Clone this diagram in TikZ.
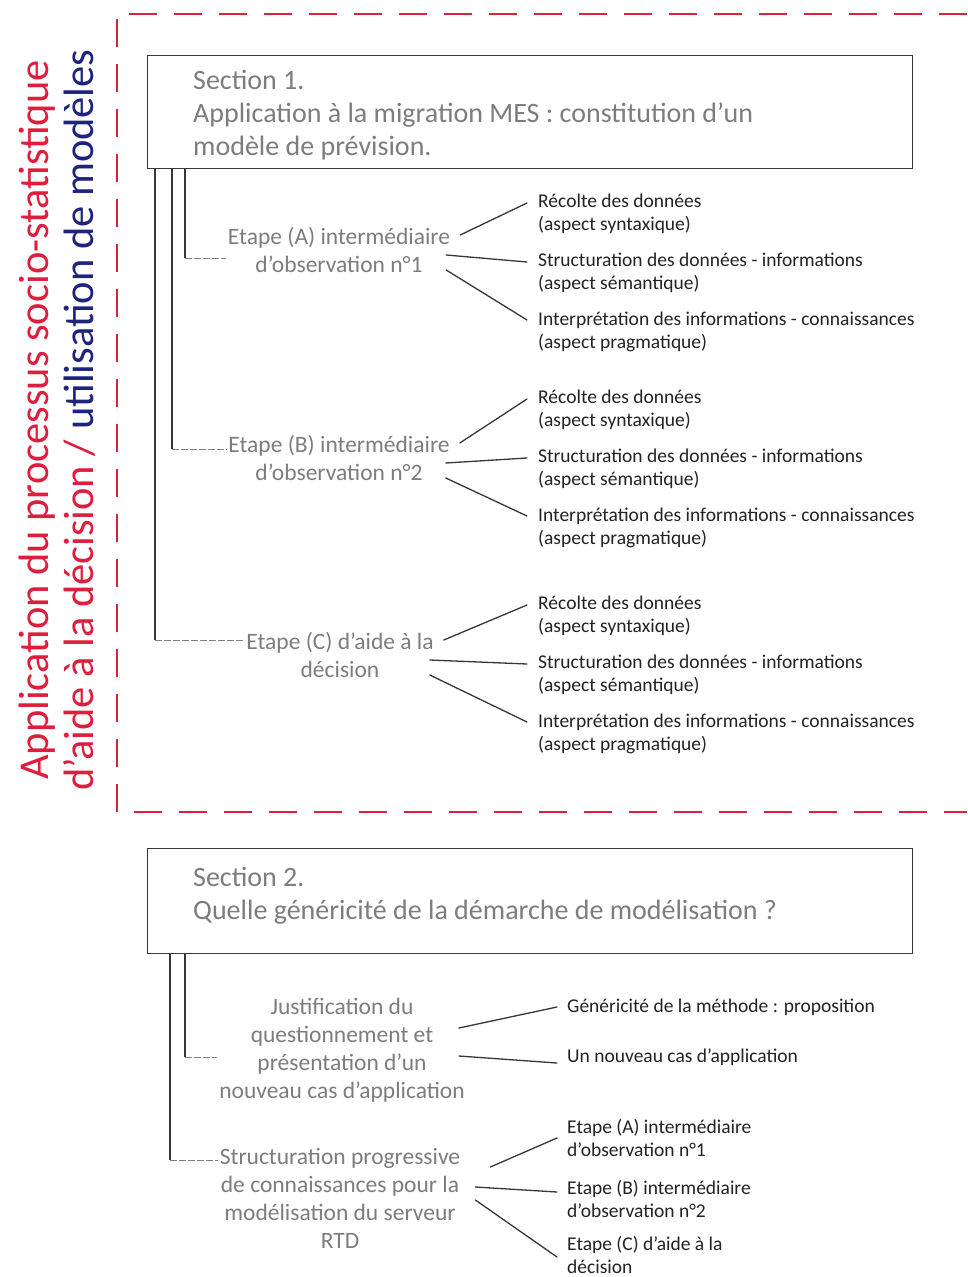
\documentclass[tikz,border=0pt]{standalone}
\usepackage{fontspec}
\setmainfont{Carlito}
\usetikzlibrary{calc}
\definecolor{redt}{RGB}{222,30,60}
\definecolor{bluet}{RGB}{30,35,125}
\definecolor{graytxt}{RGB}{125,125,125}
\definecolor{leaftxt}{RGB}{35,35,35}
\definecolor{ink}{RGB}{55,55,55}
\begin{document}
\begin{tikzpicture}[x=1pt,y=-1pt,
  sectbox/.style={draw=ink, line width=1.3pt, anchor=north west, inner sep=0pt},
  secttext/.style={anchor=west, align=left, text=graytxt, font=\fontsize{28}{33}\selectfont, inner sep=0pt},
  mid/.style={align=center, text=graytxt, font=\fontsize{23.5}{28}\selectfont, inner sep=2pt},
  leaf/.style={anchor=west, align=left, text=leaftxt, font=\fontsize{19.5}{23}\selectfont, inner sep=0pt},
  branch/.style={draw=ink, line width=1.3pt, line cap=round},
  trunk/.style={draw=ink, line width=1.8pt},
  twig/.style={draw=gray, line width=0.9pt, dash pattern=on 7pt off 2pt},
  frame/.style={draw=redt, line width=1.4pt, dash pattern=on 28pt off 17pt},
]
\useasboundingbox (0,0) rectangle (967,1277);
\fill[white] (0,0) rectangle (967,1277);

% red frame and vertical title
\draw[frame] (967,14) -- (117,14) -- (117,812) -- (967,812);
\node[rotate=90, align=center, inner sep=0pt, font=\fontsize{42.5}{45}\selectfont] (title) at (57,420)
  {\textcolor{redt}{Application du processus socio-statistique}\\
   \textcolor{redt}{d’aide à la décision /} \textcolor{bluet}{utilisation de modèles}};

% Section 1
\node[sectbox, minimum width=765pt, minimum height=113pt] (s1) at (147,55) {};
\node[secttext] (s1t) at (193,115) {Section 1.\\Application à la migration MES : constitution d’un\\modèle de prévision.};

\node[mid] (A) at (339,250) {Etape (A) intermédiaire\\d’observation n°1};
\node[mid] (B) at (339,458) {Etape (B) intermédiaire\\d’observation n°2};
\node[mid] (C) at (340,655) {Etape (C) d’aide à la\\décision};

\node[leaf] (A1) at (538,214) {Récolte des données\\(aspect syntaxique)};
\node[leaf] (A2) at (538,273) {Structuration des données - informations\\(aspect sémantique)};
\node[leaf] (A3) at (538,332) {Interprétation des informations - connaissances\\(aspect pragmatique)};
\node[leaf] (B1) at (538,410) {Récolte des données\\(aspect syntaxique)};
\node[leaf] (B2) at (538,469) {Structuration des données - informations\\(aspect sémantique)};
\node[leaf] (B3) at (538,528) {Interprétation des informations - connaissances\\(aspect pragmatique)};
\node[leaf] (C1) at (538,616) {Récolte des données\\(aspect syntaxique)};
\node[leaf] (C2) at (538,675) {Structuration des données - informations\\(aspect sémantique)};
\node[leaf] (C3) at (538,734) {Interprétation des informations - connaissances\\(aspect pragmatique)};

\coordinate (ka) at (185,258);
\coordinate (kb) at (172,449);
\coordinate (kc) at (155,640);
\draw[trunk] (ka |- s1.south) -- (ka);
\draw[trunk] (kb |- s1.south) -- (kb);
\draw[trunk] (kc |- s1.south) -- (kc);
\draw[twig] (ka) -- (ka -| A.west);
\draw[twig] (kb) -- (kb -| B.west);
\draw[twig] (kc) -- (kc -| C.west);

\foreach \m/\a/\b/\c in {A/A1/A2/A3, B/B1/B2/B3, C/C1/C2/C3}{
  \draw[branch] ($(\m.east)+(8,-15)$) -- ($(\a.west)+(-11,-11)$);
  \draw[branch] ($(\m.east)+(-6,5)$) -- ($(\b.west)+(-11,-11)$);
  \draw[branch] ($(\m.east)+(-6,20)$) -- ($(\c.west)+(-11,-12)$);
}

% Section 2
\node[sectbox, minimum width=765pt, minimum height=105pt] (s2) at (147,848) {};
\node[secttext] (s2t) at (193,896) {Section 2.\\Quelle généricité de la démarche de modélisation ?};

\node[mid] (J) at (342,1050) {Justification du\\questionnement et\\présentation d’un\\nouveau cas d’application};
\node[mid] (S) at (340,1198) {Structuration progressive\\de connaissances pour la\\modélisation du serveur\\RTD};

\node[leaf] (J1) at (567,1007) {Généricité de la méthode : proposition};
\node[leaf] (J2) at (567,1057) {Un nouveau cas d’application};
\node[leaf] (S1) at (567,1138) {Etape (A) intermédiaire\\d’observation n°1};
\node[leaf] (S2) at (567,1199) {Etape (B) intermédiaire\\d’observation n°2};
\node[leaf] (S3) at (567,1255) {Etape (C) d’aide à la\\décision};

\coordinate (kj) at (185,1057);
\coordinate (ks) at (170,1160);
\draw[trunk] (kj |- s2.south) -- (kj);
\draw[trunk] (ks |- s2.south) -- (ks);
\draw[twig] (kj) -- (kj -| J.west);
\draw[twig] (ks) -- (ks -| S.west);

\draw[branch] ($(J.east)+(-8,-22)$) -- ($(J1.west)+(-10,0)$);
\draw[branch] ($(J.east)+(-8,6)$) -- ($(J2.west)+(-10,6)$);
\draw[branch] ($(S.east)+(28,-31)$) -- ($(S1.west)+(-10,0)$);
\draw[branch] ($(S.east)+(13,-11)$) -- ($(S2.west)+(-10,-7)$);
\draw[branch] ($(S.east)+(13,2)$) -- ($(S3.west)+(-10,2)$);
\end{tikzpicture}
\end{document}
